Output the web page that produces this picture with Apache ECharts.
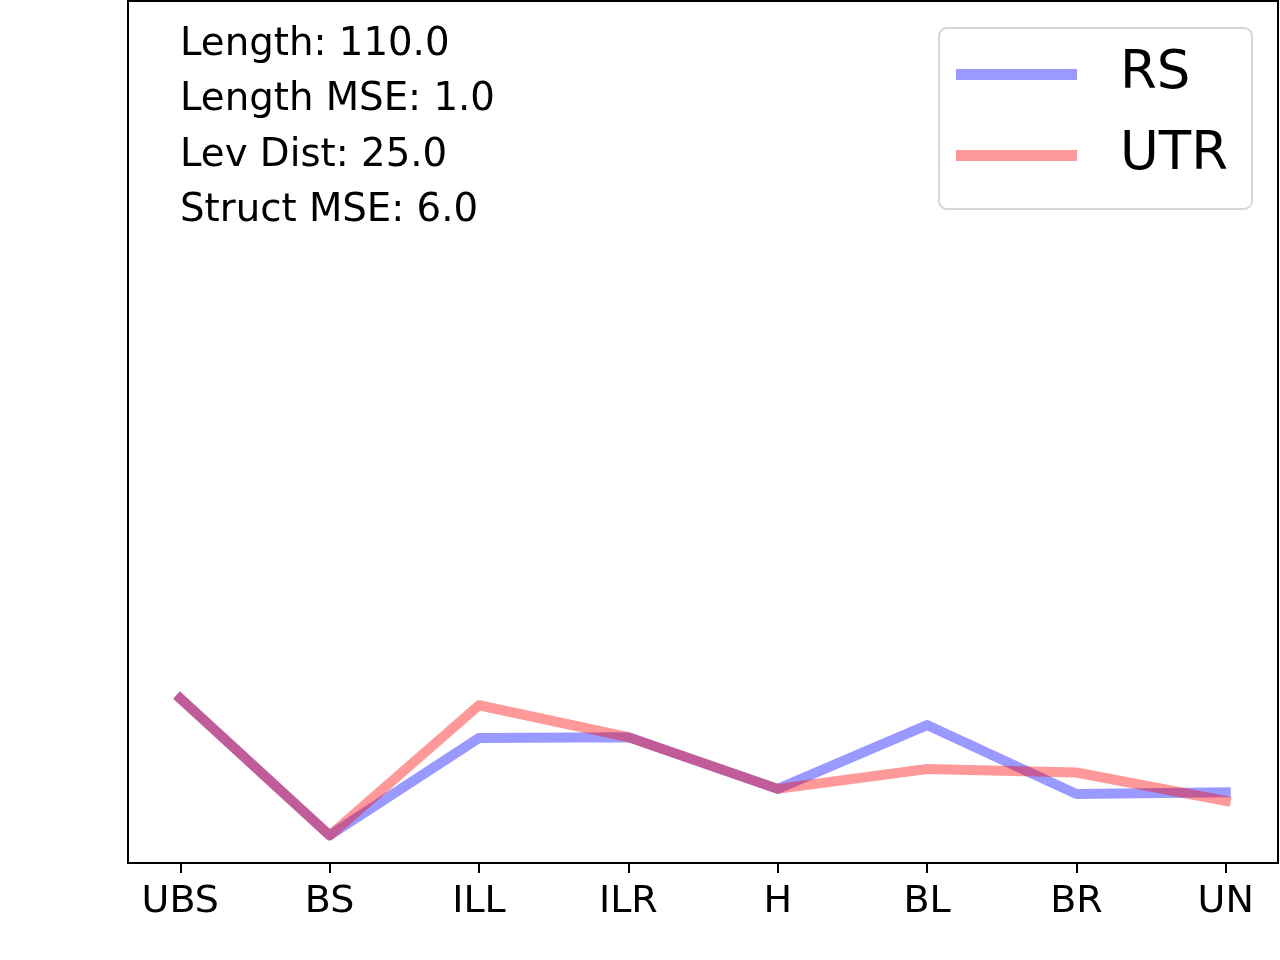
<!DOCTYPE html>
<html>
<head>
<meta charset="utf-8">
<script src="https://cdn.jsdelivr.net/npm/echarts@6/dist/echarts.min.js"></script>
<style>
  html, body { margin: 0; padding: 0; background: #fff; }
  #main { width: 1280px; height: 960px; }
</style>
</head>
<body>
<div id="main"></div>
<script>
// categories along the x axis
const categories = ['UBS', 'BS', 'ILL', 'ILR', 'H', 'BL', 'BR', 'UN'];

// values (y axis has no labels, scale 0..100)
const rsValues = [19.1, 3.2, 14.5, 14.6, 8.6, 16.0, 8.0, 8.2];
const utrValues = [19.1, 3.2, 18.3, 14.6, 8.6, 10.9, 10.5, 7.2];

// annotation lines in the top-left corner
const statLines = ['Length: 110.0', 'Length MSE: 1.0', 'Lev Dist: 25.0', 'Struct MSE: 6.0'];

const FONT = 'DejaVu Sans';
const tickPositions = categories.map((c, i) => i);

// pair up index and value so the points sit on the numeric x axis
const toPoints = vals => vals.map((v, i) => [i, v]);

var myChart = echarts.init(document.getElementById('main'));

var option = {
  animation: false,
  backgroundColor: '#fff',
  title: {
    text: statLines.join('\n'),
    left: 180,
    top: 17,
    padding: 0,
    textStyle: { fontFamily: FONT, fontSize: 38.7, fontWeight: 'normal', color: '#000', lineHeight: 55.5 }
  },
  legend: {
    orient: 'vertical',
    left: 939,
    top: 28,
    padding: [16, 24, 23, 17],
    itemWidth: 121,
    itemHeight: 11,
    itemGap: 20,
    icon: 'rect',
    backgroundColor: '#fff',
    borderColor: '#d6d6d6',
    borderWidth: 2,
    borderRadius: 8,
    textStyle: { fontFamily: FONT, fontSize: 53, color: '#000', lineHeight: 57, padding: [4, 0, 0, 38] },
    data: ['RS', 'UTR']
  },
  grid: {
    left: 128,
    right: 2,
    top: 1,
    bottom: 97,
    show: true,
    borderColor: '#000',
    borderWidth: 2,
    containLabel: false
  },
  xAxis: {
    type: 'value',
    min: -0.35,
    max: 7.35,
    splitLine: { show: false },
    axisLine: { show: true, lineStyle: { color: '#000', width: 2 } },
    axisTick: { show: true, length: 10, customValues: tickPositions, lineStyle: { color: '#000', width: 2 } },
    axisLabel: {
      customValues: tickPositions,
      formatter: v => categories[Math.round(v)],
      fontFamily: FONT,
      fontSize: 38,
      color: '#000',
      margin: 20
    }
  },
  yAxis: {
    type: 'value',
    min: 0,
    max: 100,
    splitLine: { show: false },
    axisLine: { show: false },
    axisTick: { show: false },
    axisLabel: { show: false }
  },
  series: [
    {
      name: 'RS',
      type: 'line',
      data: toPoints(rsValues),
      symbol: 'none',
      color: 'rgba(0,0,255,0.4)',
      lineStyle: { width: 10, cap: 'square', join: 'round' },
      z: 2
    },
    {
      name: 'UTR',
      type: 'line',
      data: toPoints(utrValues),
      symbol: 'none',
      color: 'rgba(255,0,0,0.4)',
      lineStyle: { width: 10, cap: 'square', join: 'round' },
      z: 3
    }
  ]
};

myChart.setOption(option);
</script>
</body>
</html>
